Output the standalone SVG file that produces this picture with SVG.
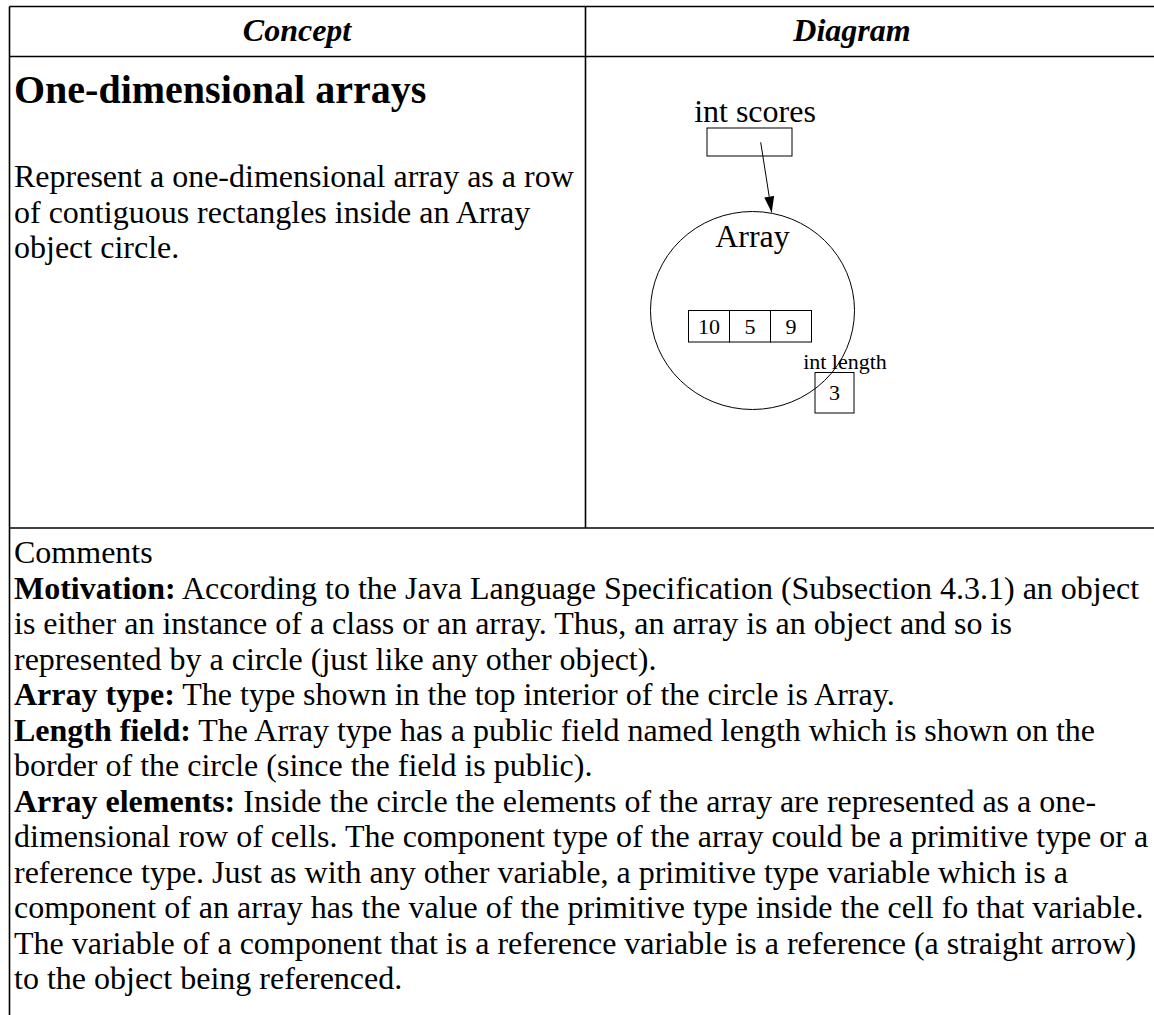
<svg xmlns="http://www.w3.org/2000/svg" width="1154" height="1015" viewBox="0 0 1154 1015">
<style>
text{font-family:"Liberation Serif","Times New Roman",serif;fill:#000}
.hdr{font-size:32px;font-weight:bold;font-style:italic;text-anchor:middle}
.title{font-size:40px;font-weight:bold}
.body{font-size:32px}
.b{font-weight:bold}
.tbl{stroke:#000;stroke-width:1.6;fill:none}
.shape{stroke:#000;stroke-width:1;fill:none}
.dlab{font-size:32px;text-anchor:middle}
.small{font-size:22px;text-anchor:middle}
</style>
<defs>
<marker id="ah" markerWidth="16" markerHeight="10" refX="16" refY="5" orient="auto" markerUnits="userSpaceOnUse" viewBox="0 0 16 10">
<path d="M0,0 L16,5 L0,10 Z" fill="#000"/>
</marker>
</defs>
<rect width="1154" height="1015" fill="#fff"/>
<g id="table">
<line class="tbl" x1="9.5" y1="6.5" x2="1154" y2="6.5"/>
<line class="tbl" x1="9.5" y1="56.5" x2="1154" y2="56.5"/>
<line class="tbl" x1="9.5" y1="528" x2="1154" y2="528"/>
<line class="tbl" x1="9.5" y1="6.5" x2="9.5" y2="1015"/>
<line class="tbl" x1="585.5" y1="6.5" x2="585.5" y2="528"/>
</g>
<g id="headers">
<text class="hdr" x="297" y="41">Concept</text>
<text class="hdr" x="852" y="41">Diagram</text>
</g>
<g id="concept">
<text class="title" x="14" y="103">One-dimensional arrays</text>
<text class="body" x="14" y="187">Represent a one-dimensional array as a row</text>
<text class="body" x="14" y="222.5">of contiguous rectangles inside an Array</text>
<text class="body" x="14" y="258">object circle.</text>
</g>
<g id="node-scores">
<text class="dlab" x="755" y="122">int scores</text>
<rect class="shape" x="707" y="128" width="85" height="28"/>
</g>
<g id="node-array">
<ellipse class="shape" cx="752.5" cy="310.5" rx="102" ry="99"/>
<text class="dlab" x="752.5" y="247">Array</text>
</g>
<g id="node-cells">
<rect class="shape" x="688.5" y="310.5" width="41" height="31.5"/>
<rect class="shape" x="729.5" y="310.5" width="41" height="31.5"/>
<rect class="shape" x="770.5" y="310.5" width="41" height="31.5"/>
<text class="small" x="709" y="334">10</text>
<text class="small" x="750" y="334">5</text>
<text class="small" x="791" y="334">9</text>
</g>
<g id="node-length">
<text class="small" x="845" y="369">int length</text>
<rect class="shape" x="815" y="372.5" width="39" height="40.5"/>
<text class="small" x="834.5" y="400">3</text>
</g>
<g id="connectors">
<line class="shape" x1="760.7" y1="142.3" x2="771.7" y2="212.5" marker-end="url(#ah)"/>
</g>
<g id="comments">
<text class="body" x="14" y="563">Comments</text>
<text class="body" x="14" y="598.5"><tspan class="b">Motivation:</tspan> According to the Java Language Specification (Subsection 4.3.1) an object</text>
<text class="body" x="14" y="634">is either an instance of a class or an array. Thus, an array is an object and so is</text>
<text class="body" x="14" y="669.5">represented by a circle (just like any other object).</text>
<text class="body" x="14" y="705"><tspan class="b">Array type:</tspan> The type shown in the top interior of the circle is Array.</text>
<text class="body" x="14" y="740.5"><tspan class="b">Length field:</tspan> The Array type has a public field named length which is shown on the</text>
<text class="body" x="14" y="776">border of the circle (since the field is public).</text>
<text class="body" x="14" y="811.5"><tspan class="b">Array elements:</tspan> Inside the circle the elements of the array are represented as a one-</text>
<text class="body" x="14" y="847">dimensional row of cells. The component type of the array could be a primitive type or a</text>
<text class="body" x="14" y="882.5">reference type. Just as with any other variable, a primitive type variable which is a</text>
<text class="body" x="14" y="918">component of an array has the value of the primitive type inside the cell fo that variable.</text>
<text class="body" x="14" y="953.5">The variable of a component that is a reference variable is a reference (a straight arrow)</text>
<text class="body" x="14" y="989">to the object being referenced.</text>
</g>
</svg>
